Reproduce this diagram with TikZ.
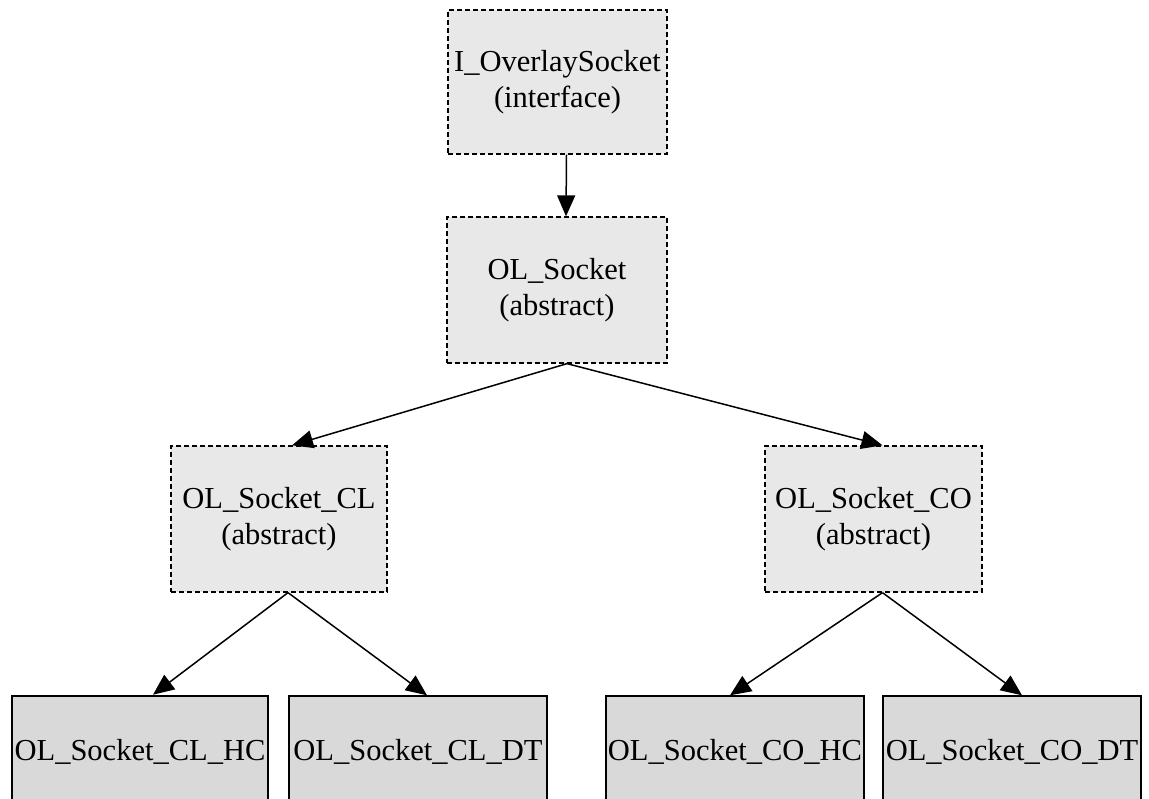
\documentclass[tikz,border=0pt]{standalone}
\usepackage{fontspec}
\setmainfont{Liberation Serif}
\usetikzlibrary{arrows.meta}

\definecolor{absfill}{HTML}{E8E8E8}
\definecolor{concfill}{HTML}{D9D9D9}

\tikzset{
  cls/.style={draw=black, rectangle, inner sep=0pt, align=center,
    font=\fontsize{30.5}{36}\selectfont},
  absbox/.style={cls, fill=absfill, line width=1.3pt, dash pattern=on 5pt off 3pt},
  concbox/.style={cls, fill=concfill, line width=1.4pt, minimum height=112pt},
  inherit/.style={-{Triangle[length=21pt,width=18pt]}, line width=1.5pt, black},
}

\begin{document}
\begin{tikzpicture}[x=1pt, y=-1pt]
  \useasboundingbox (0,0) rectangle (1149,799);
  \clip (0,0) rectangle (1149,799);

  % abstract layers
  \node[absbox, minimum width=219pt, minimum height=144pt] (iface) at (557.5,82)
    {I\_OverlaySocket\\(interface)};
  \node[absbox, minimum width=220pt, minimum height=146pt] (sock) at (557,290)
    {OL\_Socket\\(abstract)};
  \node[absbox, minimum width=216pt, minimum height=146pt] (cl) at (279,519)
    {OL\_Socket\_CL\\(abstract)};
  \node[absbox, minimum width=217pt, minimum height=146pt] (co) at (873.5,519)
    {OL\_Socket\_CO\\(abstract)};

  % concrete classes
  \node[concbox, minimum width=256pt, line width=2.6pt] (clhc) at (140,752) {OL\_Socket\_CL\_HC};
  \node[concbox, minimum width=258pt] (cldt) at (418,752) {OL\_Socket\_CL\_DT};
  \node[concbox, minimum width=258pt] (cohc) at (735,752) {OL\_Socket\_CO\_HC};
  \node[concbox, minimum width=258pt] (codt) at (1012,752) {OL\_Socket\_CO\_DT};

  % inheritance edges
  \draw[inherit] ([xshift=9pt]iface.south) -- ([xshift=9pt]sock.north);
  \draw[inherit] ([xshift=10pt]sock.south) -- ([xshift=13pt]cl.north);
  \draw[inherit] ([xshift=10pt]sock.south) -- ([xshift=9pt]co.north);
  \draw[inherit] ([xshift=9pt]cl.south) -- ([xshift=13pt]clhc.north);
  \draw[inherit] ([xshift=9pt]cl.south) -- ([xshift=9pt]cldt.north);
  \draw[inherit] ([xshift=9pt]co.south) -- ([xshift=-5pt]cohc.north);
  \draw[inherit] ([xshift=9pt]co.south) -- ([xshift=10pt]codt.north);
\end{tikzpicture}
\end{document}
